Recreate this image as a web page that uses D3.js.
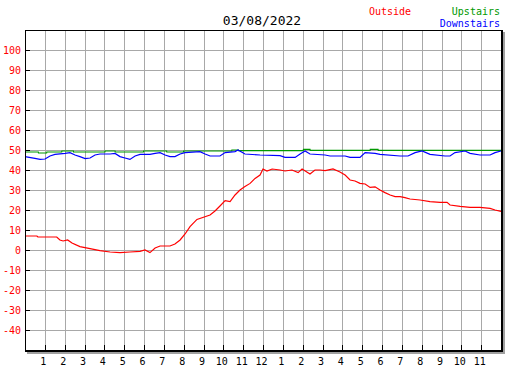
<!DOCTYPE html>
<html>
<head>
<meta charset="utf-8">
<script src="https://cdn.jsdelivr.net/npm/d3@7"></script>
<style>
  body { margin: 0; background: #fff; }
  text { font-family: "DejaVu Sans Mono", monospace; }
</style>
</head>
<body>
<script>
// chart size
var width = 527,
    height = 370;

// plot box (note: "top" is a reserved window property, so use other names)
var plotLeft = 25, plotTop = 30, plotRight = 501, plotBottom = 350;

var title = "03/08/2022";

// hour tick labels (12 hour clock)
var hourLabels = ["1","2","3","4","5","6","7","8","9","10","11","12",
                  "1","2","3","4","5","6","7","8","9","10","11"];

// temperature ticks on the left
var tempTicks = [-40,-30,-20,-10,0,10,20,30,40,50,60,70,80,90,100];

// outside temperature
var outsideHours = [0,0.6,0.65,1.6,1.76,1.92,2.15,2.37,2.77,3.28,3.78,4.29,4.79,5.29,5.8,6.05,6.3,
  6.56,6.81,7.31,7.56,7.82,8.07,8.32,8.67,9.33,9.58,9.83,10.09,10.34,10.59,10.84,11.09,11.35,11.6,
  11.85,12.0,12.2,12.46,12.86,13.11,13.46,13.77,13.97,14.37,14.62,14.88,15.13,15.53,15.88,16.14,
  16.39,16.64,16.89,17.15,17.4,17.65,17.9,18.15,18.41,18.66,18.91,19.16,19.41,19.92,20.42,20.93,
  21.28,21.43,21.94,22.44,22.94,23.45,23.7,24];
var outsideTemps = [7,7,6.5,6.5,5,4.5,5,3.5,1.7,0.7,-0.3,-1,-1.3,-1,-0.7,0,-1.3,
  1,2,2,3,5,8,11.7,15.3,17.5,19.5,22,24.7,24.2,27.5,30,31.7,33.3,35.8,
  37.5,40.5,39.5,40.5,40,39.5,40,38.7,40.5,38,40,40,39.7,40.5,39,37.5,
  35,34.5,33.3,33,31.3,31.6,30,28.7,27.5,26.7,26.7,26.2,25.5,25,24.2,23.8,
  23.8,22.5,21.8,21.3,21.3,20.8,20,19.3];

// upstairs temperature
var upstairsHours = [0,0.67,0.68,1.09,1.1,1.85,1.86,2.44,2.45,4.03,4.04,4.54,4.55,5.97,5.98,7.14,7.15,
  7.99,8.0,10.42,10.43,10.76,10.77,14.03,14.04,14.37,14.38,17.4,17.41,17.8,17.81,24];
var upstairsTemps = [49,49,48.5,48.5,49,49,49.5,49.5,49,49,49.5,49.5,49,49,49.5,49.5,49,
  49,49.5,49.5,50,50,49.7,49.7,50.3,50.3,49.8,49.8,50.3,50.3,49.8,49.8];

// downstairs temperature
var downstairsHours = [0,0.5,0.76,1.01,1.26,1.51,2.02,2.27,2.52,2.77,3.03,3.28,3.53,3.78,4.29,4.54,
  4.79,5.04,5.29,5.55,5.8,6.3,6.56,6.81,7.06,7.31,7.56,7.82,8.07,8.82,9.08,9.33,9.83,10.09,10.59,
  10.74,11.09,11.85,12.86,13.11,13.62,13.87,14.12,14.37,15.13,15.38,16.14,16.39,16.89,17.15,17.65,
  17.9,18.91,19.31,19.67,20.02,20.42,21.18,21.43,21.68,22.19,22.44,22.94,23.45,23.7,24];
var downstairsTemps = [46.7,45.8,45.3,45.5,47,47.8,48.3,48.7,47.5,46.7,45.7,46,47.5,48,48,48.3,
  46.7,46,45.3,47,47.8,47.8,48.3,48.7,47.5,46.7,46.7,48,48.7,49.2,48,47,47,48.7,49.2,
  50,48,47.5,47.2,46.3,46.3,48,49.5,48,47.5,47,47,46.3,46.3,48.7,48.3,
  47.8,47,47,48.7,49.5,47.8,47,47,48.7,49.5,48.3,47.5,47.5,48.7,49.5];

var svg = d3.select('body')
  .append('svg')
  .attr('width', width)
  .attr('height', height);

var x = d3.scaleLinear().domain([0, 24]).range([plotLeft, plotRight]);
var y = d3.scaleLinear().domain([-50, 110]).range([plotBottom, plotTop]);

// shadow on right and bottom
svg.append('rect')
  .attr('x', plotRight + 2).attr('y', plotTop + 2)
  .attr('width', 2).attr('height', plotBottom - plotTop + 2)
  .attr('fill', '#a0a0a0');
svg.append('rect')
  .attr('x', plotLeft + 2).attr('y', plotBottom + 2)
  .attr('width', plotRight - plotLeft + 2).attr('height', 2)
  .attr('fill', '#a0a0a0');

// grid
var grid = svg.append('g').attr('shape-rendering', 'crispEdges');
grid.selectAll('.vg')
  .data(d3.range(1, 24))
  .enter().append('line')
  .attr('x1', function(d) { return Math.round(x(d)) + 0.5; })
  .attr('x2', function(d) { return Math.round(x(d)) + 0.5; })
  .attr('y1', plotTop).attr('y2', plotBottom)
  .attr('stroke', '#a8a8a8');
grid.selectAll('.hg')
  .data(tempTicks)
  .enter().append('line')
  .attr('x1', plotLeft).attr('x2', plotRight)
  .attr('y1', function(d) { return y(d) + 0.5; })
  .attr('y2', function(d) { return y(d) + 0.5; })
  .attr('stroke', '#a8a8a8');

// little black ticks
grid.selectAll('.yt')
  .data(tempTicks)
  .enter().append('line')
  .attr('x1', plotLeft).attr('x2', plotLeft + 5)
  .attr('y1', function(d) { return y(d) + 0.5; })
  .attr('y2', function(d) { return y(d) + 0.5; })
  .attr('stroke', '#000');
grid.selectAll('.xt')
  .data(d3.range(1, 24))
  .enter().append('line')
  .attr('x1', function(d) { return Math.round(x(d)) + 0.5; })
  .attr('x2', function(d) { return Math.round(x(d)) + 0.5; })
  .attr('y1', plotBottom - 5).attr('y2', plotBottom)
  .attr('stroke', '#000');

// the three lines
var line = d3.line()
  .x(function(d) { return x(d[0]); })
  .y(function(d) { return y(d[1]); });

var series = [
  { h: upstairsHours, v: upstairsTemps, color: '#009900' },
  { h: downstairsHours, v: downstairsTemps, color: '#0000ff' },
  { h: outsideHours, v: outsideTemps, color: '#ff0000' }
];

series.forEach(function(s) {
  svg.append('path')
    .datum(d3.zip(s.h, s.v))
    .attr('d', line)
    .attr('fill', 'none')
    .attr('stroke', s.color)
    .attr('stroke-width', 1.2);
});

// frame: thin top/left, thick right/bottom
var frame = svg.append('g').attr('shape-rendering', 'crispEdges');
frame.append('line').attr('x1', plotLeft).attr('x2', plotRight + 2)
  .attr('y1', plotTop + 0.5).attr('y2', plotTop + 0.5).attr('stroke', '#000');
frame.append('line').attr('x1', plotLeft + 0.5).attr('x2', plotLeft + 0.5)
  .attr('y1', plotTop).attr('y2', plotBottom + 2).attr('stroke', '#000');
frame.append('rect').attr('x', plotRight).attr('y', plotTop)
  .attr('width', 2).attr('height', plotBottom - plotTop + 2).attr('fill', '#000');
frame.append('rect').attr('x', plotLeft).attr('y', plotBottom)
  .attr('width', plotRight - plotLeft + 2).attr('height', 2).attr('fill', '#000');

// y labels
svg.selectAll('.ylab')
  .data(tempTicks)
  .enter().append('text')
  .attr('x', 21)
  .attr('y', function(d) { return y(d) + 4; })
  .attr('text-anchor', 'end')
  .attr('fill', '#ff0000')
  .style('font-size', '10px')
  .text(function(d) { return d; });

// x labels
svg.selectAll('.xlab')
  .data(hourLabels)
  .enter().append('text')
  .attr('x', function(d, i) { return x(i + 1) - 1.5; })
  .attr('y', 365)
  .attr('text-anchor', 'middle')
  .attr('fill', '#000')
  .style('font-size', '10px')
  .text(function(d) { return d; });

// title and legend
svg.append('text')
  .attr('x', 262).attr('y', 25)
  .attr('text-anchor', 'middle')
  .style('font-size', '13px')
  .text(title);
svg.append('text')
  .attr('x', 369).attr('y', 15)
  .attr('fill', '#ff0000')
  .style('font-size', '10px')
  .text('Outside');
svg.append('text')
  .attr('x', 500).attr('y', 15)
  .attr('text-anchor', 'end')
  .attr('fill', '#009900')
  .style('font-size', '10px')
  .text('Upstairs');
svg.append('text')
  .attr('x', 500).attr('y', 27)
  .attr('text-anchor', 'end')
  .attr('fill', '#0000ff')
  .style('font-size', '10px')
  .text('Downstairs');
</script>
</body>
</html>
